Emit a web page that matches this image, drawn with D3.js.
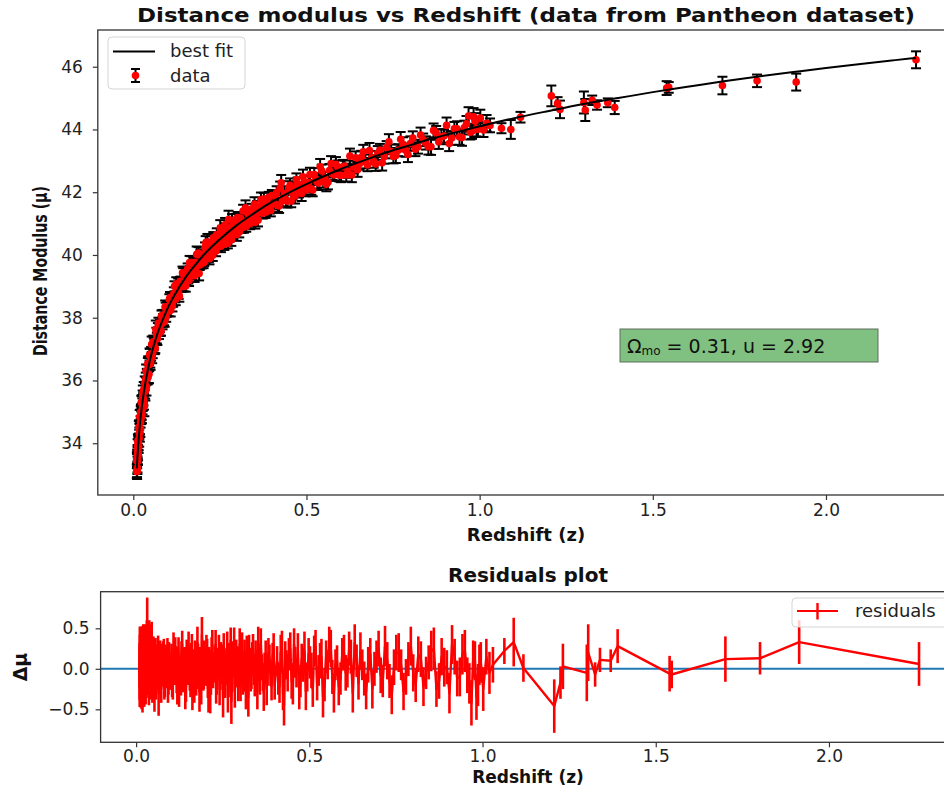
<!DOCTYPE html>
<html>
<head>
<meta charset="utf-8">
<script src="https://cdnjs.cloudflare.com/ajax/libs/d3/7.8.5/d3.min.js"></script>
<style>
body{margin:0;background:#fff;}
svg{font-family:"DejaVu Sans",sans-serif;}
</style>
</head>
<body>
<div class="chart"></div>
<script>
// supernova redshifts (two batches, sorted together below)
var redshift = [
  0.0101,0.0105,0.011,0.0115,0.012,0.0125,0.013,0.0135,0.014,0.015,
  0.016,0.017,0.018,0.019,0.02,0.021,0.022,0.023,0.024,0.025,
  0.026,0.027,0.028,0.029,0.03,0.032,0.034,0.036,0.038,0.04,
  0.042,0.044,0.046,0.048,0.05,0.053,0.056,0.059,0.062,0.065,
  0.068,0.071,0.074,0.077,0.08,0.083,0.086,0.089,0.092,0.095,0.098,
  0.102,0.106,0.110,0.113,0.117,0.121,0.124,0.128,0.131,0.135,
  0.139,0.142,0.146,0.150,0.153,0.157,0.161,0.164,0.168,0.172,
  0.175,0.179,0.183,0.186,0.190,0.194,0.197,0.201,0.205,0.209,
  0.212,0.216,0.220,0.224,0.228,0.231,0.235,0.239,0.243,0.247,
  0.251,0.255,0.259,0.263,0.267,0.271,0.275,0.279,0.283,0.287,
  0.291,0.295,0.299,0.304,0.308,0.313,0.317,0.322,0.326,0.331,
  0.335,0.340,0.345,0.350,0.355,0.360,0.366,0.371,0.377,0.382,
  0.388,0.394,0.400,
  0.407,0.414,0.421,0.427,0.434,0.441,0.449,0.456,0.463,0.471,
  0.478,0.486,0.494,0.502,0.510,0.518,0.527,0.535,0.544,0.553,
  0.562,0.571,0.580,0.590,0.600,0.610,0.620,0.631,0.642,0.653,
  0.664,0.676,0.688,0.700,0.712,0.725,0.738,0.751,0.765,0.779,
  0.793,0.807,0.822,0.837,0.852,0.867,0.882,0.897,0.912,0.927,
  0.942,0.956,0.968,0.978,0.987,0.995,1.002,1.011,1.020,1.030,
  1.063,1.090,1.118,1.207,1.225,1.232,1.301,1.305,1.325,1.339,
  1.370,1.390,1.540,1.546,1.701,1.801,1.914,2.260,
  // second batch
  0.0103,0.0108,0.0112,0.0118,0.0122,0.0128,0.0133,0.0138,0.0145,0.0155,
  0.0165,0.0175,0.0185,0.0195,0.0205,0.0215,0.0225,0.0235,0.0245,0.0255,
  0.0265,0.0275,0.0285,0.031,0.033,0.035,0.037,0.039,0.041,0.043,
  0.045,0.047,0.049,0.0515,0.0545,0.0575,0.0605,0.0635,0.0665,0.0695,
  0.0725,0.0755,0.0785,0.0815,0.0845,0.0875,0.0905,0.0935,0.0965,
  0.104,0.108,0.1115,0.115,0.119,0.1225,0.126,0.1295,0.133,0.137,
  0.1405,0.144,0.148,0.1515,0.155,0.159,0.1625,0.166,0.170,0.1735,
  0.177,0.181,0.1845,0.188,0.192,0.1955,0.199,0.203,0.207,0.2105,
  0.214,0.218,0.222,0.226,0.2295,0.233,0.237,0.241,0.245,0.249,
  0.253,0.257,0.261,0.265,0.269,0.273,0.277,0.281,0.285,0.289,
  0.293,0.297,0.3015,0.306,0.3105,0.315,0.3195,0.324,0.3285,0.333,
  0.3375,0.3425,0.3475,0.3525,0.3575,0.363,0.3685,0.374,0.3795,0.385,
  0.391,0.397,
  0.4105,0.4175,0.424,0.4305,0.4375,0.445,0.4525,0.4595,0.467,0.4745,
  0.482,0.490,0.498,0.506,0.514,0.5225,0.531,0.5395,0.5485,0.5575,
  0.5665,0.5755,0.585,0.595,0.605,0.615,0.6255,0.6365,0.6475,0.6585,
  0.670,0.682,0.694,0.706,0.7185,0.7315,0.7445,0.758,0.772,0.786,
  0.800,0.8145,0.8295,0.8445,0.8595,0.8745,0.8895,0.9045,0.9195,0.9345,
  0.949,0.962,0.973,0.9825,0.991
];
// distance modulus mu
var distMod = [
  33.10,33.46,33.10,33.53,33.42,33.91,33.70,33.61,34.03,33.98,
  34.51,34.16,34.44,34.33,34.85,34.68,34.99,34.81,35.32,34.89,
  35.23,35.46,35.29,35.42,35.71,35.19,35.67,36.05,35.80,36.13,
  36.54,36.20,36.50,36.79,36.56,37.15,36.87,37.16,37.02,37.63,
  37.35,37.65,37.48,37.74,37.58,38.07,37.92,37.93,38.35,38.02,38.35,
  38.21,38.64,38.48,38.37,38.77,38.64,39.07,38.87,38.76,39.16,
  39.00,39.43,39.00,39.32,39.19,39.56,39.19,39.48,39.76,39.49,
  39.71,39.54,40.02,39.73,39.41,40.00,39.74,40.02,39.80,40.38,
  40.02,40.29,39.88,40.25,40.15,40.55,40.29,40.13,40.52,40.32,
  40.86,40.45,40.64,40.34,40.84,40.65,41.13,40.59,40.48,40.92,
  40.75,41.13,40.65,40.97,41.17,40.86,41.40,41.05,40.91,41.32,
  41.08,41.32,41.12,41.62,41.28,41.11,41.55,41.44,41.78,41.36,
  41.65,41.49,41.89,
  41.63,41.99,41.56,42.30,41.84,41.75,42.13,41.72,42.11,42.40,
  42.02,41.96,42.33,42.19,42.56,42.07,42.42,42.29,42.68,42.47,
  42.32,42.91,42.55,42.81,42.54,42.83,42.67,42.55,43.10,42.91,
  43.29,42.87,43.10,42.90,43.34,43.14,43.61,43.14,43.34,43.53,
  43.20,43.73,43.45,43.67,43.45,43.97,43.61,43.79,43.55,44.02,
  43.76,44.06,44.43,43.94,44.26,44.01,44.36,43.98,44.20,44.13,
  44.04,44.00,44.39,45.07,44.83,44.64,44.86,44.62,44.93,44.78,
  44.85,44.70,45.32,45.34,45.40,45.55,45.51,46.22,
  // second batch
  33.46,33.14,33.50,33.22,33.76,33.60,34.08,33.70,34.01,33.89,
  34.47,34.32,34.84,34.49,34.45,34.98,34.91,35.30,34.94,35.28,
  35.10,35.58,35.38,35.32,35.91,35.66,36.31,36.13,36.07,36.52,
  36.20,36.82,36.59,36.85,36.73,37.23,37.09,37.03,37.50,37.33,
  37.83,37.62,37.58,38.05,37.83,38.09,37.89,38.31,38.19,
  38.58,38.24,38.61,38.53,39.00,38.59,38.84,39.07,38.68,39.15,
  38.99,39.39,39.19,39.01,39.47,39.26,39.76,39.43,39.37,39.76,
  39.34,39.77,39.66,40.06,39.68,40.00,39.90,39.75,40.24,39.96,
  40.42,39.94,40.29,40.20,39.99,40.47,40.26,40.65,40.27,40.51,
  40.28,40.77,40.53,40.96,40.53,40.37,40.85,40.74,41.10,40.66,
  40.94,40.81,41.19,40.73,41.16,41.03,40.90,41.50,41.08,41.30,
  41.00,41.47,41.24,41.04,41.55,41.41,41.77,41.33,41.60,41.46,
  41.84,41.42,
  41.87,41.59,42.13,41.72,41.96,41.71,42.22,41.96,41.88,42.27,
  42.11,42.49,42.07,42.31,42.11,42.56,42.32,42.81,42.35,42.25,
  42.69,42.58,42.89,42.54,42.81,42.55,43.15,42.80,42.72,43.11,
  42.98,43.33,42.98,43.25,42.94,43.42,43.30,43.17,43.69,43.34,
  43.55,43.37,43.82,43.57,43.45,43.89,43.77,44.13,43.73,44.02,
  43.74,44.18,43.91,44.40,44.03
];
// 1-sigma error on mu
var distErr = [
  0.22,0.20,0.24,0.19,0.35,0.22,0.18,0.30,0.25,0.21,
  0.20,0.27,0.19,0.28,0.22,0.18,0.25,0.20,0.18,0.25,
  0.20,0.22,0.25,0.20,0.24,0.33,0.25,0.20,0.28,0.22,
  0.18,0.30,0.20,0.22,0.22,0.25,0.16,0.20,0.18,0.28,
  0.17,0.18,0.16,0.20,0.15,0.17,0.20,0.17,0.20,0.15,0.18,
  0.16,0.18,0.14,0.17,0.20,0.15,0.22,0.15,0.16,0.14,
  0.18,0.20,0.16,0.15,0.14,0.17,0.18,0.16,0.20,0.15,
  0.17,0.16,0.25,0.14,0.22,0.15,0.17,0.16,0.15,0.22,
  0.15,0.17,0.18,0.15,0.16,0.18,0.15,0.17,0.16,0.15,
  0.25,0.16,0.14,0.18,0.17,0.15,0.28,0.16,0.19,0.15,
  0.16,0.18,0.20,0.15,0.17,0.16,0.20,0.15,0.17,0.16,
  0.18,0.15,0.17,0.22,0.16,0.20,0.17,0.15,0.20,0.18,
  0.16,0.17,0.18,
  0.18,0.20,0.22,0.25,0.18,0.20,0.22,0.20,0.18,0.20,
  0.19,0.24,0.18,0.20,0.22,0.20,0.19,0.22,0.20,0.18,
  0.23,0.24,0.19,0.20,0.22,0.18,0.21,0.23,0.20,0.19,
  0.22,0.20,0.21,0.22,0.20,0.23,0.24,0.22,0.19,0.22,
  0.24,0.21,0.22,0.20,0.25,0.22,0.23,0.21,0.24,0.22,
  0.25,0.22,0.28,0.24,0.26,0.25,0.27,0.22,0.26,0.22,
  0.16,0.30,0.17,0.33,0.20,0.28,0.35,0.35,0.15,0.15,
  0.14,0.21,0.22,0.17,0.28,0.20,0.27,0.27,
  // second batch
  0.25,0.22,0.30,0.20,0.18,0.28,0.20,0.24,0.22,0.20,
  0.26,0.18,0.22,0.20,0.25,0.20,0.28,0.22,0.19,0.25,
  0.18,0.26,0.20,0.25,0.22,0.30,0.20,0.24,0.20,0.25,
  0.28,0.20,0.18,0.22,0.18,0.20,0.22,0.16,0.18,0.20,
  0.17,0.19,0.16,0.18,0.20,0.16,0.18,0.17,0.16,
  0.17,0.20,0.15,0.18,0.16,0.19,0.15,0.18,0.17,0.16,
  0.15,0.19,0.16,0.18,0.15,0.17,0.21,0.16,0.15,0.18,
  0.20,0.15,0.17,0.19,0.16,0.15,0.18,0.17,0.16,0.15,
  0.25,0.17,0.16,0.15,0.18,0.17,0.16,0.20,0.15,0.17,
  0.19,0.16,0.15,0.22,0.17,0.16,0.18,0.15,0.20,0.16,
  0.17,0.15,0.18,0.17,0.16,0.18,0.19,0.24,0.16,0.17,
  0.18,0.16,0.15,0.20,0.17,0.16,0.22,0.17,0.16,0.18,
  0.17,0.19,
  0.20,0.22,0.21,0.19,0.23,0.20,0.22,0.19,0.24,0.20,
  0.21,0.23,0.20,0.22,0.19,0.21,0.22,0.25,0.20,0.22,
  0.21,0.19,0.23,0.20,0.22,0.21,0.24,0.20,0.23,0.21,
  0.22,0.24,0.20,0.22,0.25,0.21,0.22,0.24,0.23,0.21,
  0.23,0.22,0.24,0.21,0.26,0.22,0.24,0.25,0.22,0.24,
  0.26,0.25,0.23,0.28,0.25
];
// residuals (fit - data)
var resid = [
  0.10,-0.18,0.28,-0.05,0.15,-0.25,0.05,0.22,-0.12,0.08,
  -0.30,0.18,0.02,0.25,-0.15,0.12,-0.08,0.20,-0.22,0.30,
  0.05,-0.10,0.15,0.10,-0.12,0.55,0.20,-0.05,0.32,0.10,
  -0.20,0.25,0.05,-0.15,0.18,-0.28,0.12,-0.05,0.20,-0.30,
  0.08,-0.12,0.15,-0.02,0.22,-0.18,0.05,0.12,-0.22,0.18,-0.08,
  0.15,-0.20,0.05,0.22,-0.10,0.12,-0.25,0.02,0.18,-0.15,
  0.08,-0.30,0.20,-0.05,0.12,-0.18,0.25,0.00,-0.22,0.10,
  -0.08,0.15,-0.28,0.05,0.42,-0.12,0.18,-0.05,0.22,-0.32,
  0.08,-0.15,0.30,-0.02,0.12,-0.25,0.05,0.25,-0.10,0.15,
  -0.35,0.10,-0.05,0.28,-0.18,0.05,-0.40,0.18,0.32,-0.08,
  0.12,-0.22,0.30,0.02,-0.15,0.20,-0.30,0.08,0.25,-0.12,
  0.15,-0.05,0.18,-0.28,0.10,0.30,-0.10,0.05,-0.25,0.20,
  -0.05,0.15,-0.20,
  0.10,-0.22,0.25,-0.45,0.05,0.18,-0.15,0.30,-0.05,-0.30,
  0.12,0.22,-0.10,0.08,-0.25,0.28,-0.02,0.15,-0.20,0.05,
  0.25,-0.30,0.10,-0.12,0.20,-0.05,0.15,0.32,-0.18,0.05,
  -0.28,0.18,0.00,0.25,-0.15,0.10,-0.32,0.20,0.05,-0.10,
  0.28,-0.20,0.12,-0.05,0.22,-0.25,0.15,0.02,0.30,-0.12,
  0.18,-0.08,-0.42,0.10,-0.20,0.08,-0.25,0.15,-0.05,0.05,
  0.22,0.33,0.01,-0.46,-0.17,0.03,-0.05,0.20,-0.07,0.11,
  0.10,0.28,-0.06,-0.07,0.12,0.13,0.33,0.06,
  // second batch
  -0.22,0.20,-0.08,0.32,-0.15,0.12,-0.28,0.18,-0.02,0.25,
  -0.20,0.08,-0.32,0.15,0.30,-0.12,0.05,-0.25,0.20,-0.05,
  0.22,-0.18,0.10,0.35,-0.10,0.28,-0.25,0.05,0.22,-0.12,
  0.30,-0.22,0.10,-0.05,0.20,-0.18,0.08,0.25,-0.12,0.15,
  -0.25,0.05,0.18,-0.20,0.10,-0.08,0.20,-0.15,0.05,
  -0.18,0.25,-0.05,0.10,-0.28,0.20,0.02,-0.15,0.30,-0.10,
  0.12,-0.22,0.05,0.28,-0.12,0.15,-0.30,0.08,0.20,-0.15,
  0.32,-0.05,0.10,-0.25,0.18,-0.10,0.05,0.25,-0.20,0.12,
  -0.30,0.22,-0.08,0.05,0.30,-0.15,0.10,-0.25,0.18,-0.02,
  0.25,-0.20,0.08,-0.32,0.15,0.35,-0.10,0.05,-0.28,0.20,
  -0.05,0.12,-0.22,0.28,-0.12,0.05,0.22,-0.35,0.10,-0.08,
  0.25,-0.18,0.08,0.32,-0.15,0.02,-0.30,0.18,-0.05,0.12,
  -0.22,0.25,
  -0.12,0.20,-0.30,0.15,-0.05,0.25,-0.22,0.08,0.20,-0.15,
  0.05,-0.28,0.18,-0.02,0.22,-0.18,0.10,-0.35,0.15,0.30,
  -0.10,0.05,-0.22,0.18,-0.05,0.25,-0.30,0.10,0.22,-0.12,
  0.05,-0.25,0.15,-0.08,0.28,-0.15,0.02,0.20,-0.28,0.12,
  -0.05,0.18,-0.22,0.08,0.25,-0.15,0.02,-0.30,0.15,-0.10,
  0.22,-0.18,0.12,-0.35,0.05
];
// best fit curve
var fitZ = [0.0101,0.012,0.014,0.016,0.018,0.02,0.025,0.03,0.035,0.04,0.05,0.06,0.07,0.08,0.09,
  0.1,0.12,0.15,0.175,0.2,0.25,0.3,0.35,0.4,0.45,0.5,0.55,0.6,0.65,0.7,0.75,0.8,0.85,0.9,0.95,
  1.0,1.1,1.2,1.3,1.4,1.5,1.6,1.7,1.8,1.9,2.0,2.1,2.2,2.26];
var fitMu = [33.20,33.57,33.91,34.21,34.46,34.70,35.19,35.59,35.94,36.23,36.74,37.15,37.50,37.80,38.07,
  38.32,38.74,39.27,39.63,39.96,40.50,40.96,41.34,41.69,41.99,42.26,42.51,42.74,42.95,43.15,43.34,43.50,43.67,43.82,43.96,
  44.10,44.36,44.59,44.81,45.00,45.19,45.36,45.53,45.68,45.82,45.96,46.09,46.21,46.28];

var zTicks = [0, 0.5, 1.0, 1.5, 2.0];
var muTicks = [34, 36, 38, 40, 42, 44, 46];
var resTicks = [-0.5, 0.0, 0.5];

var w = 944, h = 796;
var svg = d3.select(".chart").append("svg")
            .attr("width", w)
            .attr("height", h);

var pts = redshift.map(function(z, i){
    return {z: z, mu: distMod[i], err: distErr[i], res: resid[i]};
});
pts.sort(function(a, b){ return a.z - b.z; });
var fit = fitZ.map(function(z, i){ return [z, fitMu[i]]; });

function styleAxis(g){
    g.select(".domain").remove();
    g.selectAll(".tick line").attr("stroke", "#333").attr("stroke-width", 1.2);
    g.selectAll(".tick text").attr("fill", "#222").attr("font-size", 17)
     .attr("font-family", "DejaVu Sans");
}

// ---------- top panel ----------
var pTop = {left: 97.8, right: 955, top: 30, bottom: 495};
var xTop = d3.scaleLinear().domain([-0.1025, 2.3725]).range([pTop.left, pTop.right]);
var yTop = d3.scaleLinear().domain([32.35, 47.17]).range([pTop.bottom, pTop.top]);

svg.append("g")
   .attr("transform", `translate(0,${pTop.bottom})`)
   .call(d3.axisBottom(xTop).tickValues(zTicks).tickFormat(d3.format(".1f")).tickSize(5).tickPadding(4))
   .call(styleAxis);
svg.append("g")
   .attr("transform", `translate(${pTop.left},0)`)
   .call(d3.axisLeft(yTop).tickValues(muTicks).tickFormat(d3.format("d")).tickSize(5).tickPadding(10))
   .call(styleAxis);

var bars = svg.append("g").attr("stroke", "#000").attr("stroke-width", 2);
bars.selectAll(".eb").data(pts).enter().append("line")
    .attr("x1", d => xTop(d.z)).attr("x2", d => xTop(d.z))
    .attr("y1", d => yTop(d.mu - d.err)).attr("y2", d => yTop(d.mu + d.err));
bars.selectAll(".capLo").data(pts).enter().append("line")
    .attr("x1", d => xTop(d.z) - 5).attr("x2", d => xTop(d.z) + 5)
    .attr("y1", d => yTop(d.mu - d.err)).attr("y2", d => yTop(d.mu - d.err));
bars.selectAll(".capHi").data(pts).enter().append("line")
    .attr("x1", d => xTop(d.z) - 5).attr("x2", d => xTop(d.z) + 5)
    .attr("y1", d => yTop(d.mu + d.err)).attr("y2", d => yTop(d.mu + d.err));

svg.append("g").selectAll("circle").data(pts).enter().append("circle")
   .attr("cx", d => xTop(d.z)).attr("cy", d => yTop(d.mu))
   .attr("r", 3.8).attr("fill", "#ff0000");

var line = d3.line().curve(d3.curveMonotoneX)
             .x(d => xTop(d[0])).y(d => yTop(d[1]));
svg.append("path").datum(fit)
   .attr("fill", "none").attr("stroke", "#000").attr("stroke-width", 2)
   .attr("d", line);

svg.append("rect")
   .attr("x", pTop.left).attr("y", pTop.top)
   .attr("width", pTop.right - pTop.left).attr("height", pTop.bottom - pTop.top)
   .attr("fill", "none").attr("stroke", "#333").attr("stroke-width", 1.3);

// legend (top)
var leg = svg.append("g");
leg.append("rect").attr("x", 108).attr("y", 37).attr("width", 137).attr("height", 52).attr("rx", 4)
   .attr("fill", "#fff").attr("fill-opacity", 0.8).attr("stroke", "#d5d5d5");
leg.append("line").attr("x1", 113).attr("x2", 155).attr("y1", 51.5).attr("y2", 51.5)
   .attr("stroke", "#000").attr("stroke-width", 2);
leg.append("line").attr("x1", 135.5).attr("x2", 135.5).attr("y1", 69).attr("y2", 82)
   .attr("stroke", "#000").attr("stroke-width", 2);
[69, 82].forEach(function(y){
    leg.append("line").attr("x1", 131).attr("x2", 140).attr("y1", y).attr("y2", y)
       .attr("stroke", "#000").attr("stroke-width", 2);
});
leg.append("circle").attr("cx", 135.5).attr("cy", 75.5).attr("r", 3.8).attr("fill", "#ff0000");
leg.append("text").attr("x", 170).attr("y", 57).attr("font-size", 18).attr("fill", "#222").text("best fit");
leg.append("text").attr("x", 170).attr("y", 82).attr("font-size", 18).attr("fill", "#222").text("data");

// parameter box
svg.append("rect").attr("x", 620).attr("y", 329).attr("width", 258).attr("height", 33)
   .attr("fill", "#80c080").attr("stroke", "#5f6f5f").attr("stroke-width", 1);
var ann = svg.append("text").attr("x", 627).attr("y", 352.5).attr("font-size", 19).attr("fill", "#111");
ann.append("tspan").text("Ω");
ann.append("tspan").attr("font-size", 12).attr("dy", 2).text("mo");
ann.append("tspan").attr("dy", -2).text(" = 0.31, u = 2.92");

// titles and labels (top)
svg.append("text").attr("x", 526).attr("y", 22).attr("text-anchor", "middle")
   .attr("font-size", 20).attr("font-weight", "bold").attr("fill", "#111")
   .attr("textLength", 778).attr("lengthAdjust", "spacingAndGlyphs")
   .text("Distance modulus vs Redshift (data from Pantheon dataset)");
svg.append("text").attr("x", 526).attr("y", 541).attr("text-anchor", "middle")
   .attr("font-size", 18).attr("font-weight", "bold").attr("fill", "#111")
   .text("Redshift (z)");
svg.append("text").attr("transform", "translate(47,271) rotate(-90)").attr("text-anchor", "middle")
   .attr("font-size", 19).attr("font-weight", "bold").attr("fill", "#111")
   .attr("textLength", 170).attr("lengthAdjust", "spacingAndGlyphs")
   .text("Distance Modulus (μ)");

// ---------- residuals panel ----------
var pBot = {left: 100.6, right: 958, top: 591.7, bottom: 742.3};
var xBot = d3.scaleLinear().domain([-0.1025, 2.3725]).range([pBot.left, pBot.right]);
var yBot = d3.scaleLinear().domain([-0.907, 0.952]).range([pBot.bottom, pBot.top]);

svg.append("g")
   .attr("transform", `translate(0,${pBot.bottom})`)
   .call(d3.axisBottom(xBot).tickValues(zTicks).tickFormat(d3.format(".1f")).tickSize(5).tickPadding(3))
   .call(styleAxis);
svg.append("g")
   .attr("transform", `translate(${pBot.left},0)`)
   .call(d3.axisLeft(yBot).tickValues(resTicks).tickFormat(d3.format(".1f")).tickSize(5).tickPadding(6))
   .call(styleAxis);

svg.append("line").attr("x1", pBot.left).attr("x2", pBot.right)
   .attr("y1", yBot(0)).attr("y2", yBot(0))
   .attr("stroke", "#1f77b4").attr("stroke-width", 2);

svg.append("g").attr("stroke", "#ff0000").attr("stroke-width", 2.6)
   .selectAll("line").data(pts).enter().append("line")
   .attr("x1", d => xBot(d.z)).attr("x2", d => xBot(d.z))
   .attr("y1", d => yBot(d.res - d.err)).attr("y2", d => yBot(d.res + d.err));

var resLine = d3.line().x(d => xBot(d.z)).y(d => yBot(d.res));
svg.append("path").datum(pts)
   .attr("fill", "none").attr("stroke", "#ff0000").attr("stroke-width", 2.4)
   .attr("stroke-linejoin", "round")
   .attr("d", resLine);

svg.append("rect")
   .attr("x", pBot.left).attr("y", pBot.top)
   .attr("width", pBot.right - pBot.left).attr("height", pBot.bottom - pBot.top)
   .attr("fill", "none").attr("stroke", "#333").attr("stroke-width", 1.3);

// legend (residuals)
var leg2 = svg.append("g");
leg2.append("rect").attr("x", 792).attr("y", 598).attr("width", 160).attr("height", 29).attr("rx", 4)
    .attr("fill", "#fff").attr("fill-opacity", 0.8).attr("stroke", "#d5d5d5");
leg2.append("line").attr("x1", 797).attr("x2", 838).attr("y1", 611).attr("y2", 611)
    .attr("stroke", "#ff0000").attr("stroke-width", 2.2);
leg2.append("line").attr("x1", 817.5).attr("x2", 817.5).attr("y1", 603).attr("y2", 619.5)
    .attr("stroke", "#ff0000").attr("stroke-width", 2.4);
leg2.append("text").attr("x", 855).attr("y", 617).attr("font-size", 18).attr("fill", "#222").text("residuals");

svg.append("text").attr("x", 528).attr("y", 582).attr("text-anchor", "middle")
   .attr("font-size", 20).attr("font-weight", "bold").attr("fill", "#111")
   .text("Residuals plot");
svg.append("text").attr("x", 528).attr("y", 783).attr("text-anchor", "middle")
   .attr("font-size", 17).attr("font-weight", "bold").attr("fill", "#111")
   .text("Redshift (z)");
svg.append("text").attr("transform", "translate(27,667) rotate(-90)").attr("text-anchor", "middle")
   .attr("font-size", 19).attr("font-weight", "bold").attr("fill", "#111")
   .text("Δμ");
</script>
</body>
</html>
